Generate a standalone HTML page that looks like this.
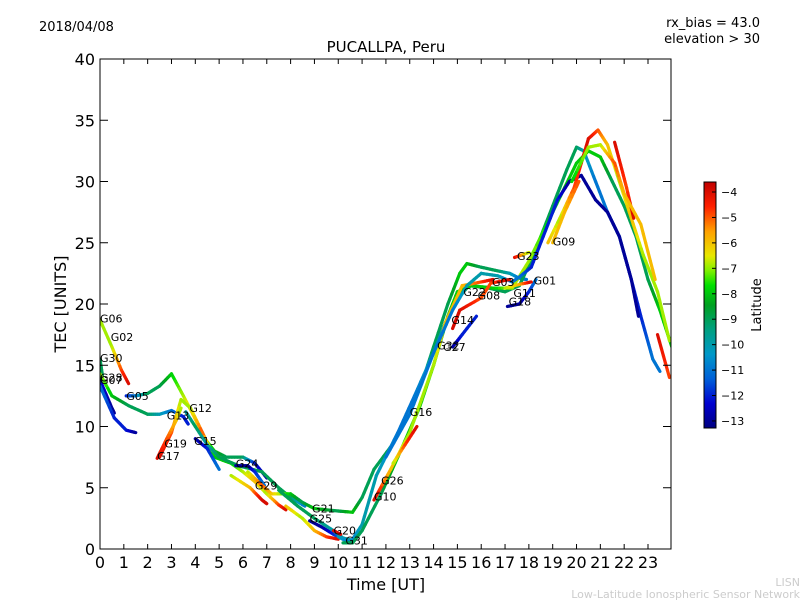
<!DOCTYPE html>
<html><head><meta charset="utf-8"><style>
body{margin:0;background:#fff;}
svg text{font-family:"DejaVu Sans","Liberation Sans",sans-serif;fill:#000;}
</style></head><body>
<svg id="chart" width="800" height="600" viewBox="0 0 800 600" xmlns="http://www.w3.org/2000/svg">
<defs>
<linearGradient id="cbg" x1="0" y1="1" x2="0" y2="0">
<stop offset="0" stop-color="#000080"/><stop offset="0.1" stop-color="#0000d0"/><stop offset="0.2" stop-color="#0060d8"/><stop offset="0.3" stop-color="#0098c8"/><stop offset="0.4" stop-color="#00a080"/><stop offset="0.5" stop-color="#00a020"/><stop offset="0.58" stop-color="#00e000"/><stop offset="0.64" stop-color="#80f000"/><stop offset="0.7" stop-color="#e8e800"/><stop offset="0.8" stop-color="#ffa000"/><stop offset="0.9" stop-color="#ff2000"/><stop offset="1" stop-color="#c00000"/>
</linearGradient>
<clipPath id="plotclip"><rect x="100" y="59" width="571" height="490"/></clipPath>
</defs>
<text x="39" y="31" font-size="13">2018/04/08</text>
<text x="760" y="27" font-size="13" text-anchor="end">rx_bias = 43.0</text>
<text x="760" y="43" font-size="13" text-anchor="end">elevation &gt; 30</text>
<text x="386" y="52" font-size="15" text-anchor="middle">PUCALLPA, Peru</text>
<g id="traces" clip-path="url(#plotclip)"></g>
<rect x="100" y="59" width="571" height="490" fill="none" stroke="#000" stroke-width="1"/>
<g id="axes"></g>
<g id="labels"></g>
<text x="386" y="590" font-size="16" text-anchor="middle">Time [UT]</text>
<text transform="translate(66,304) rotate(-90)" font-size="16" text-anchor="middle">TEC [UNITS]</text>
<rect x="704" y="182" width="12" height="246" fill="url(#cbg)" stroke="#000" stroke-width="1"/>
<g id="cbaxis"></g>
<text transform="translate(761,305) rotate(-90)" font-size="13" text-anchor="middle">Latitude</text>
<text x="800" y="586" font-size="11" text-anchor="end" style="fill:#ccc">LISN</text>
<text x="800" y="598" font-size="11" text-anchor="end" style="fill:#ccc">Low-Latitude Ionospheric Sensor Network</text>
</svg>
<script>
const xTicks=[0,1,2,3,4,5,6,7,8,9,10,11,12,13,14,15,16,17,18,19,20,21,22,23];
const yTicks=[0,5,10,15,20,25,30,35,40];
const cbTicks=[-4,-5,-6,-7,-8,-9,-10,-11,-12,-13];
// each trace: [hour, TEC, latitude]
const trG06=[[0,18.7,-7],[0.5,16.5,-7],[0.9,14.6,-5],[1.2,13.5,-4]];
const trG30=[[0,15.5,-9],[0.1,14.2,-9]];
const trG28=[[0,14.3,-7],[0.5,12.5,-8],[1.2,11.7,-9],[2,11,-9],[2.5,11,-10],[3,11.3,-11],[3.5,10.8,-12],[3.7,10.2,-12]];
const trG07=[[0,13.8,-12],[0.5,11.5,-13],[0.6,11.1,-13]];
const trU=[[0,13.3,-11],[0.6,10.7,-12],[1.1,9.7,-12],[1.5,9.5,-13]];
const trG05=[[1.1,12.5,-12],[1.5,12.5,-11],[2,12.7,-9],[2.5,13.3,-9],[3,14.3,-8],[3.5,12.5,-7],[3.9,11,-6],[4.4,9,-7],[4.8,8,-8],[5.3,7.5,-9],[6,7.5,-9],[6.5,7,-12],[7,5.8,-13]];
const trG12=[[2.5,7.5,-4],[3,9.5,-5],[3.4,12.2,-7],[3.8,11.5,-7],[4.3,9.5,-5],[4.8,7.5,-8],[5.5,7,-8],[6,6.3,-7],[6.5,5.5,-6],[7,4.5,-7],[7.5,3.6,-5],[7.8,3.2,-4]];
const trG13=[[3.6,11.2,-10],[4,10,-9],[4.5,8.5,-10],[5,7.5,-9],[5.8,6.8,-9],[6.8,6.3,-9],[7.5,5,-9],[8,4.2,-9],[8.6,3.5,-11]];
const trG15=[[4,9,-13],[4.5,8.2,-12],[5,6.5,-11]];
const trG24=[[5.7,6.8,-13],[6.2,6.8,-13],[6.5,6.3,-12],[6.9,5.2,-11]];
const trG29=[[6.2,6.3,-7],[6.8,5.2,-5],[7.2,4.5,-6],[8,4.5,-8],[8.5,3.8,-9],[9,3.3,-8]];
const trAB=[[5.5,6,-7],[6.3,5,-6],[6.8,4,-4],[7,3.7,-4]];
const trG19=[[2.4,7.4,-4],[2.8,9,-5],[3.2,10.5,-6],[3.4,11.5,-7]];
const trG25=[[8.8,2.3,-13],[9.3,1.8,-13],[9.8,1.2,-12],[10.2,0.8,-11]];
const trAE=[[7.5,4.8,-9],[8.3,3.5,-9],[9,2.5,-9],[9.8,1.5,-10],[10.2,0.9,-10],[10.6,0.7,-10]];
const trAF=[[7.8,3.5,-6],[8.5,2.5,-7],[9,1.5,-6],[9.5,1.0,-5],[10,0.8,-4]];
const trG20=[[9.8,1.5,-4],[10.1,1.2,-4]];
const trG21=[[9,3.3,-8],[10,3.1,-9],[10.6,3,-8],[11,4.2,-9],[11.5,6.5,-9],[12.3,8.6,-9],[13,11,-10],[13.5,13.5,-10],[14,16.5,-9],[14.6,20,-9],[15.1,22.5,-8],[15.4,23.3,-8],[16,23,-9],[16.7,22.7,-9],[17.2,22.5,-10],[17.6,22.1,-11],[17.9,22,-11]];
const trG31=[[10,1,-10],[10.5,0.5,-11],[11,2,-10],[11.6,6,-10],[12.5,9.5,-11],[13.2,12.5,-11],[14,16,-10],[14.5,18.5,-10],[15,20.5,-10],[15.5,21.5,-9],[16.3,21.3,-9],[17,21,-9],[17.6,21.5,-9],[18.2,24,-9],[19,28,-9],[19.6,31,-9],[20,32.8,-9],[20.3,32.5,-10],[20.8,30,-11],[21.3,27.5,-11],[21.8,25.5,-11],[22.3,22,-12],[22.7,19,-12],[23.2,15.5,-11],[23.5,14.5,-11]];
const trC=[[10.2,0.5,-9],[10.6,0.5,-9],[11,1.5,-9],[11.8,4.5,-9],[12.5,7.5,-8],[13.4,11.5,-8],[14,15,-8],[14.6,19,-8],[15,21,-8],[15.6,21.5,-8],[16.5,21.3,-8],[17.3,21.3,-7],[18,23.5,-7],[19,27.5,-8],[20,31.5,-8],[20.5,32.5,-8],[21,32,-8],[21.5,30,-9],[22,28,-9],[22.5,25.5,-9],[23,22,-9],[23.5,19.5,-8],[24,16.5,-8]];
const trD=[[11.5,4,-4],[12.2,6.5,-6],[13,9.5,-7],[14,15,-7],[14.5,18.5,-6],[15.2,21.5,-6],[16,21.8,-5],[16.5,22,-4]];
const trG16=[[12.3,7,-7],[12.8,8.5,-5],[13.3,10,-4]];
const trG03=[[12,7.5,-11],[13,11,-11],[14,16,-11],[14.8,19.5,-11],[15.4,21.5,-10],[16,22.5,-10],[16.7,22.3,-10],[17.3,21.8,-11],[17.6,22.2,-11],[18.1,23,-12],[18.6,25.5,-12],[19.2,28.5,-12],[19.7,30,-13],[20.2,30.5,-13],[20.8,28.5,-13],[21.3,27.5,-13],[21.8,25.5,-13],[22.3,22,-13],[22.6,19,-13]];
const trG=[[18.8,25,-6],[19.3,27,-7],[19.9,29.5,-5],[20.5,33.5,-4],[20.9,34.2,-5],[21.3,33,-6],[21.8,30,-7],[22.3,27,-6],[22.8,24,-7],[23.4,21,-7],[23.9,17,-7]];
const trH=[[21.6,33.2,-4],[21.9,31,-4.5],[22.1,29.5,-5],[22.4,27,-4]];
const trI=[[19.8,30,-8],[20.5,32.8,-7],[21,33,-7],[21.6,31.5,-5],[22,29,-6],[22.7,26.5,-6],[23.3,22,-6]];
const trG23=[[17.4,23.8,-4],[18,24.2,-7]];
const trG18=[[17.1,19.8,-13],[17.6,20,-13],[18,21,-12],[18.3,22,-11]];
const trG01=[[17,21.3,-7],[17.6,21.6,-6],[18.1,21.8,-4]];
const trM=[[23.4,17.5,-4],[23.9,14,-5]];
const trG09=[[19,25,-6],[19.5,27.5,-6],[20.1,30,-5]];
const trG14=[[14.8,18,-4],[15.1,19.5,-4],[16,20.5,-5],[16.4,21.7,-5],[17.2,22,-4]];
const trG27=[[14.8,16.5,-13],[15.2,17.5,-12],[15.8,19,-12]];
const traces=[trG06,trG30,trG28,trG07,trU,trG05,trG12,trG13,trG15,trG24,trG29,trAB,trG19,trG25,trAE,trAF,trG20,trG21,trG31,trC,trD,trG16,trG03,trG,trH,trI,trG23,trG18,trG01,trM,trG09,trG14,trG27];
const satNames=["G06","G02","G30","G28","G07","G05","G13","G12","G19","G15","G17","G24","G29","G21","G25","G20","G31","G10","G26","G16","G32","G27","G14","G22","G08","G03","G11","G18","G23","G01","G09"];
const satHours=[0,0.45,0,0,0,1.1,2.8,3.75,2.7,3.95,2.4,5.7,6.5,8.9,8.8,9.8,10.3,11.5,11.8,13,14.15,14.4,14.75,15.25,15.85,16.45,17.35,17.15,17.5,18.2,19];
const satTec=[18.8,17.3,15.6,14.0,13.8,12.5,10.9,11.5,8.6,8.8,7.6,7.0,5.2,3.3,2.5,1.5,0.7,4.3,5.6,11.2,16.6,16.5,18.7,21.0,20.7,21.8,20.9,20.2,23.9,21.9,25.1];

const X=h=>100+h*23.826, Y=v=>549-v*12.25;
const cbY=l=>192+(-4-l)*25.44;
const NS="http://www.w3.org/2000/svg";
const stops=[[-13.3,[0,0,128]],[-12.3,[0,0,208]],[-11.35,[0,96,216]],[-10.4,[0,152,200]],[-9.4,[0,160,128]],[-8.5,[0,160,32]],[-7.75,[0,224,0]],[-7.2,[128,240,0]],[-6.6,[232,232,0]],[-5.65,[255,160,0]],[-4.7,[255,32,0]],[-3.6,[192,0,0]]];
function col(l){
  if(l<=stops[0][0])return 'rgb('+stops[0][1]+')';
  for(let i=1;i<stops.length;i++){if(l<=stops[i][0]){const a=stops[i-1],b=stops[i],t=(l-a[0])/(b[0]-a[0]);return 'rgb('+a[1].map((c,k)=>Math.round(c+(b[1][k]-c)*t)).join(',')+')';}}
  return 'rgb('+stops[stops.length-1][1]+')';
}
const tg=document.getElementById('traces');
traces.forEach(tr=>{
  for(let i=1;i<tr.length;i++){
    const a=tr[i-1],b=tr[i];
    const n=6;
    for(let k=0;k<n;k++){
      const t0=k/n,t1=(k+1)/n;
      const ln=document.createElementNS(NS,'line');
      
      
      ln.setAttribute('x1',X(a[0]+(b[0]-a[0])*t0));ln.setAttribute('y1',Y(a[1]+(b[1]-a[1])*t0));
      ln.setAttribute('x2',X(a[0]+(b[0]-a[0])*t1));ln.setAttribute('y2',Y(a[1]+(b[1]-a[1])*t1));
      ln.setAttribute('stroke',col(a[2]+(b[2]-a[2])*(t0+t1)/2));
      ln.setAttribute('stroke-width','3.2');ln.setAttribute('stroke-linecap','round');
      tg.appendChild(ln);
    }
  }
});
const ax=document.getElementById('axes');
function mk(tag,attrs,txt){const e=document.createElementNS(NS,tag);for(const k in attrs)e.setAttribute(k,attrs[k]);if(txt!==undefined)e.textContent=txt;return e;}
xTicks.forEach(h=>{
  const t1=mk('line',{x1:X(h),y1:549,x2:X(h),y2:544,stroke:'#000'});
  
  
  ax.appendChild(t1);
  const t2=mk('line',{x1:X(h),y1:59,x2:X(h),y2:64,stroke:'#000'});
  
  
  ax.appendChild(t2);
  const tl=mk('text',{x:X(h),y:568,'font-size':16,'text-anchor':'middle'},String(h));
  
  
  ax.appendChild(tl);
});
yTicks.forEach(v=>{
  const t1=mk('line',{x1:100,y1:Y(v),x2:108,y2:Y(v),stroke:'#000'});
  
  
  ax.appendChild(t1);
  const t2=mk('line',{x1:663,y1:Y(v),x2:671,y2:Y(v),stroke:'#000'});
  
  
  ax.appendChild(t2);
  const tl=mk('text',{x:95,y:Y(v)+6,'font-size':16,'text-anchor':'end'},String(v));
  
  
  ax.appendChild(tl);
});
const cb=document.getElementById('cbaxis');
cbTicks.forEach(l=>{
  const t=mk('line',{x1:712,y1:cbY(l),x2:716,y2:cbY(l),stroke:'#000'});
  
  
  cb.appendChild(t);
  const tl=mk('text',{x:721,y:cbY(l)+4,'font-size':11},'\u2212'+Math.abs(l));
  
  
  cb.appendChild(tl);
});
const lg=document.getElementById('labels');
satNames.forEach((s,i)=>{
  const tl=mk('text',{x:X(satHours[i]),y:Y(satTec[i])+4,'font-size':11},s);
  
  
  lg.appendChild(tl);
});
</script>
</body></html>
